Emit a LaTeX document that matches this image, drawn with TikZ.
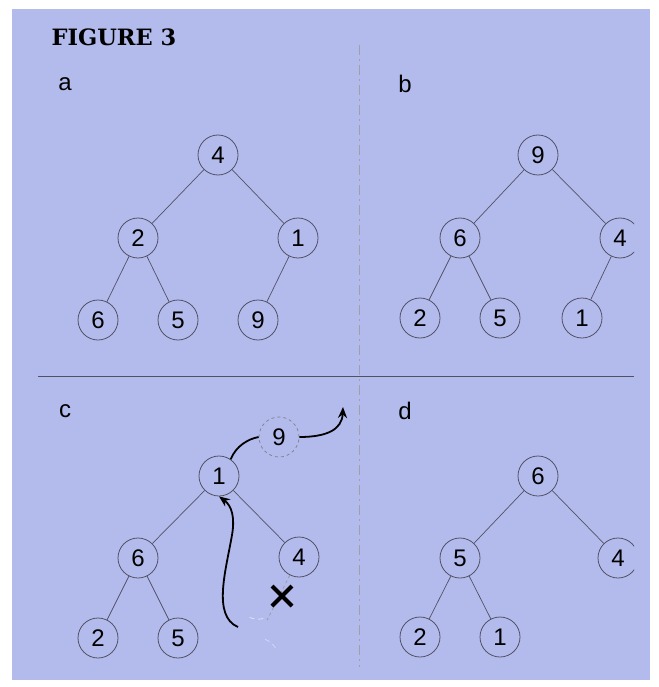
\documentclass[tikz,border=0pt]{standalone}
\usepackage{fontspec}
\setmainfont{Liberation Sans}
\newfontfamily\figfont{DejaVu Serif}
\usetikzlibrary{arrows.meta}
\definecolor{panelbg}{RGB}{179,187,236}
\definecolor{lineg}{RGB}{80,82,100}
\begin{document}
\begin{tikzpicture}[x=1pt,y=-1pt,
  hn/.style={circle,draw=lineg,line width=0.8pt,minimum size=40pt,inner sep=0pt,font=\fontsize{24}{24}\selectfont},
  ghost/.style={circle,draw=lineg!70,dashed,line width=0.8pt,minimum size=40pt,inner sep=0pt,font=\fontsize{24}{24}\selectfont},
  faint/.style={circle,draw=none,minimum size=40pt,inner sep=0pt},
  tedge/.style={draw=lineg,line width=0.7pt},
  plabel/.style={font=\fontsize{24}{24}\selectfont,anchor=center},
  mover/.style={draw=black,line width=1.8pt,-{Stealth[length=11pt,width=9pt]}},
  mline/.style={draw=black,line width=1.8pt}]
\useasboundingbox (0,0) rectangle (658,687);
\fill[white] (0,0) rectangle (658,687);
\fill[panelbg] (12,9) rectangle (650,680);
% title
\node[font=\figfont\bfseries\fontsize{22.5}{22.5}\selectfont,anchor=west] (title) at (48,37) {FIGURE 3};
% panel labels
\node[plabel] (la) at (65,84) {a};
\node[plabel] (lb) at (405,84) {b};
\node[plabel] (lc) at (65,411) {c};
\node[plabel] (ld) at (405,411) {d};
% dividers
\coordinate (hl) at (38,376);
\coordinate (hr) at (634,376);
\coordinate (vt) at (359,45);
\coordinate (vb) at (359,667);
\draw[lineg,line width=0.8pt] (hl) -- (hr);
\draw[lineg!55,line width=0.6pt,dash pattern=on 10pt off 4pt on 2pt off 4pt] (vt) -- (vb);
% panel a
\node[hn] (a4) at (218,155) {4};
\node[hn] (a2) at (138,238) {2};
\node[hn] (a1) at (298,238) {1};
\node[hn] (a6) at (98,320) {6};
\node[hn] (a5) at (178,320) {5};
\node[hn] (a9) at (258,320) {9};
\path[tedge] (a4)--(a2) (a4)--(a1) (a2)--(a6) (a2)--(a5) (a1)--(a9);
% panel b
\node[hn] (b9) at (538,155) {9};
\node[hn] (b6) at (460,238) {6};
\begin{scope}
\clip (0,0) rectangle (634,687);
\node[hn] (b4) at (620,238) {4};
\node[hn] (d4) at (618,558) {4};
\end{scope}
\node[hn] (b2) at (420,318) {2};
\node[hn] (b5) at (500,318) {5};
\node[hn] (b1) at (582,318) {1};
\path[tedge] (b9)--(b6) (b9)--(b4) (b6)--(b2) (b6)--(b5) (b4)--(b1);
% panel c
\node[hn] (c1) at (219,476) {1};
\node[ghost] (c9) at (279,437) {9};
\node[hn] (c6) at (138,558) {6};
\node[hn] (c4) at (299,557) {4};
\node[hn] (c2) at (98,638) {2};
\node[hn] (c5) at (178,638) {5};
\node[faint] (cg) at (258,638) {};
\path[tedge] (c1)--(c6) (c1)--(c4) (c6)--(c2) (c6)--(c5);
\draw[lineg!60,line width=0.7pt,dashed] (c4)--(cg);
\draw[white!55!panelbg,line width=0.8pt,dash pattern=on 5pt off 4pt] (cg.75) arc[start angle=-75,end angle=-115,radius=20pt];
\draw[white!40!panelbg,line width=0.8pt,dash pattern=on 5pt off 4pt] (cg.-30) arc[start angle=30,end angle=70,radius=20pt];
\coordinate (xc) at (282,596);
\draw[black,line width=4pt] ([shift={(-10,-10)}]xc) -- ([shift={(10,10)}]xc) ([shift={(-10,10)}]xc) -- ([shift={(10,-10)}]xc);
\coordinate (tipout) at (343,407);
\path[mline] (c1.55) .. controls (236,446) and (248,439) .. (c9.west);
\path[mover] (c9.east) .. controls (326,437) and (342,430) .. (tipout);
\coordinate (mstart) at (238,627);
\path[mover] (mstart) .. controls (212,616) and (226,570) .. (232,535) .. controls (235,518) and (232,506) .. (c1.south);
% panel d
\node[hn] (d6) at (538,476) {6};
\node[hn] (d5) at (460,558) {5};
\node[hn] (d2) at (420,637) {2};
\node[hn] (d1) at (500,637) {1};
\path[tedge] (d6)--(d5) (d6)--(d4) (d5)--(d2) (d5)--(d1);
\end{tikzpicture}
\end{document}
